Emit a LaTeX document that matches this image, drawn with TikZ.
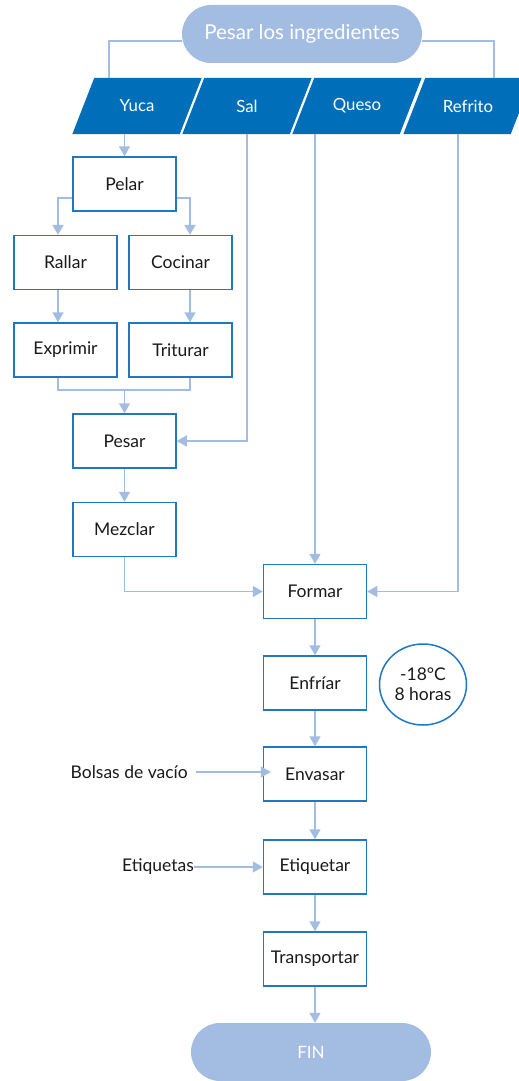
\documentclass[tikz,border=0pt]{standalone}
\usepackage{fontspec}
\setmainfont{Lato}
\usetikzlibrary{shapes.geometric,shapes.misc,arrows.meta,backgrounds}
\definecolor{boxblue}{HTML}{1F78C1}
\definecolor{parablue}{HTML}{006EB9}
\definecolor{lineblue}{HTML}{A3BCE2}
\definecolor{txt}{HTML}{1A1A1A}
\begin{document}
\begin{tikzpicture}[x=1pt,y=-1pt,
  box/.style={draw=boxblue, line width=1.5pt, fill=white, minimum width=103, minimum height=54, inner sep=0, font=\fontsize{17.5}{21}\selectfont, text=txt},
  para/.style={rectangle, minimum width=107, minimum height=56, inner sep=0, text=white, font=\fontsize{16.8}{20}\selectfont},
  parafill/.style={fill=parablue},
  pill/.style={rounded rectangle, fill=lineblue, minimum width=240, minimum height=58, inner sep=0, text=white, font=\fontsize{20.5}{24}\selectfont},
  circ/.style={ellipse, draw=boxblue, line width=1.5pt, minimum width=87, minimum height=81, inner sep=0, align=center, text=txt, font=\fontsize{17.5}{20}\selectfont},
  lbl/.style={inner sep=0, text=txt, font=\fontsize{17.5}{21}\selectfont},
  ln/.style={draw=lineblue, line width=1.5pt},
  arr/.style={draw=lineblue, line width=1.5pt, -{Triangle[length=10pt,width=11pt]}, fill=none}
]
\useasboundingbox (0,0) rectangle (519,1081);

\node[pill] (top) at (302,34) {Pesar los ingredientes};
\node[para] (yuca) at (137,106) {Yuca};
\node[para] (sal) at (247,106) {Sal};
\node[para] (queso) at (357,106) {Queso};
\node[para] (refrito) at (468,106) {Refrito};

\node[box] (pelar) at (124.5,184) {Pelar};
\node[box] (rallar) at (65.5,262.5) {Rallar};
\node[box] (cocinar) at (180.5,262.5) {Cocinar};
\node[box] (exprimir) at (65.5,350) {Exprimir};
\node[box] (triturar) at (180.5,350) {Triturar};
\node[box] (pesar) at (124.5,441) {Pesar};
\node[box] (mezclar) at (124.5,529.5) {Mezclar};
\node[box] (formar) at (315,591.5) {Formar};
\node[box] (enfriar) at (315,683) {Enfríar};
\node[circ] (temp) at (423,684.5) {-18°C\\8 horas};
\node[box] (envasar) at (315,774) {Envasar};
\node[box] (etiquetar) at (315,867) {Etiquetar};
\node[box] (transportar) at (315,959) {Transportar};
\node[pill, font=\fontsize{17}{20}\selectfont] (fin) at (311,1052) {FIN};

\node[lbl, anchor=east] (bolsas) at (188,772) {Bolsas de vacío};
\node[lbl, anchor=east] (etiq) at (194,867) {Etiquetas};

\begin{scope}[on background layer]
\fill[white] (0,0) rectangle (519,1081);
\foreach \n in {yuca,sal,queso,refrito}{
  \fill[parafill] ([xshift=11]\n.north west) -- ([xshift=11]\n.north east)
    -- ([xshift=-11]\n.south east) -- ([xshift=-11]\n.south west) -- cycle;
}
\draw[ln] ([yshift=-7]top.west) -| ([xshift=-28]yuca.north);
\draw[ln] ([yshift=-7]top.east) -| ([xshift=26]refrito.north);
\end{scope}

\draw[arr] (pelar.north |- yuca.south) -- (pelar.north);
\draw[arr] ([yshift=-14]pelar.west) -| ([xshift=-7.5]rallar.north);
\draw[arr] ([yshift=-14]pelar.east) -| ([xshift=9.5]cocinar.north);
\draw[arr] ([xshift=-7.5]rallar.south) -- ([xshift=-7.5]exprimir.north);
\draw[arr] ([xshift=9.5]cocinar.south) -- ([xshift=9.5]triturar.north);
\coordinate (merge) at (124.5,390);
\draw[ln] ([xshift=-7.5]exprimir.south) |- (merge) -| ([xshift=9.5]triturar.south);
\draw[arr] (merge) -- (pesar.north);
\draw[arr] (sal.south) |- (pesar.east);
\draw[arr] (pesar) -- (mezclar);
\draw[arr] (mezclar.south) |- (formar.west);
\draw[arr] (formar.north |- queso.south) -- (formar.north);
\draw[arr] ([xshift=-10]refrito.south) |- (formar.east);
\draw[arr] (formar) -- (enfriar);
\draw[arr] (enfriar) -- (envasar);
\draw[arr] (envasar) -- (etiquetar);
\draw[arr] (etiquetar) -- (transportar);
\draw[arr] (transportar.south) -- (transportar.south |- fin.north);
\draw[arr] ([xshift=8]bolsas.east) -- ([xshift=8]bolsas.east -| envasar.west);
\draw[arr] (etiq.east) -- (etiq.east -| etiquetar.west);
\end{tikzpicture}
\end{document}
